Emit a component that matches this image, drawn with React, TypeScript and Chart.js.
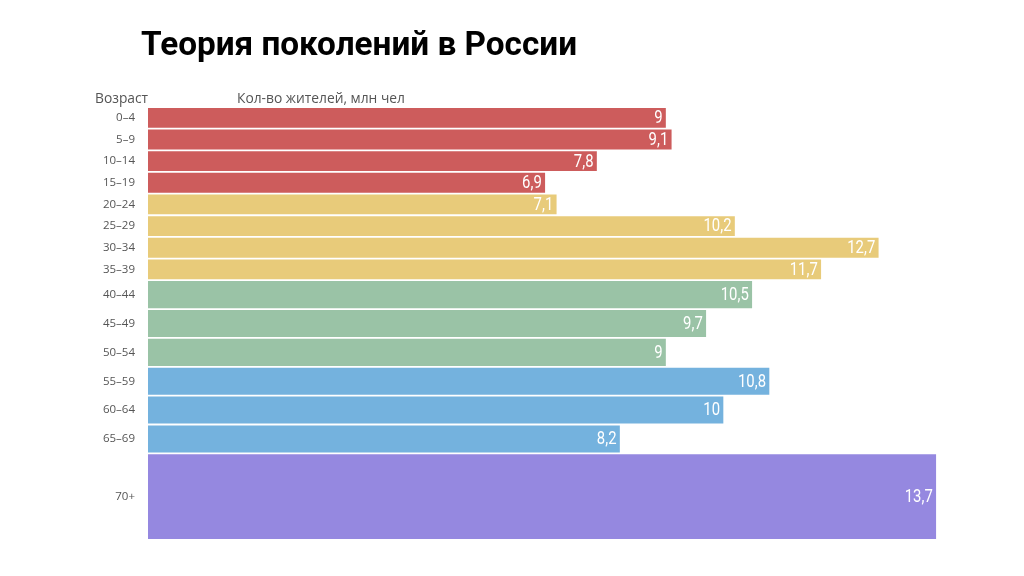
import React, { useEffect, useRef } from "react";
import { Chart, registerables } from "chart.js";

Chart.register(...registerables);

// ---- data ----
const ageGroups = ["0–4", "5–9", "10–14", "15–19", "20–24", "25–29", "30–34", "35–39", "40–44", "45–49", "50–54", "55–59", "60–64", "65–69", "70+"];
const population = [9, 9.1, 7.8, 6.9, 7.1, 10.2, 12.7, 11.7, 10.5, 9.7, 9, 10.8, 10, 8.2, 13.7];
const rowSpans = [3, 3, 3, 3, 3, 3, 3, 3, 4, 4, 4, 4, 4, 4, 12];
const generationOf = ["Z", "Z", "Z", "Z", "Y", "Y", "Y", "Y", "X", "X", "X", "BB", "BB", "BB", "S"];
const generationColors: Record<string, string> = {
  Z: "#CD5C5C",
  Y: "#E8CB7A",
  X: "#9AC3A6",
  BB: "#74B2DE",
  S: "#9588E0",
};
const titleText = "Теория поколений в России";
const ageAxisTitle = "Возраст";
const valueAxisTitle = "Кол-во жителей, млн чел";

const totalRows = rowSpans.reduce((a, b) => a + b, 0);
const rowCenters: number[] = [];
{
  let s = 0;
  for (const w of rowSpans) {
    rowCenters.push(s + w / 2);
    s += w;
  }
}
const fmt = (v: number) => String(v).replace(".", ",");

const BAR_GAP = 2.5;

const textPlugin = {
  id: "texts",
  afterDraw(chart: any) {
    const ctx = chart.ctx;
    ctx.save();
    // title
    ctx.fillStyle = "#000";
    ctx.textBaseline = "alphabetic";
    ctx.textAlign = "left";
    ctx.font = "bold 33px 'Roboto'";
    const w = ctx.measureText(titleText).width;
    ctx.translate(141, 55);
    ctx.scale(436 / w, 1);
    ctx.fillText(titleText, 0, 0);
    ctx.restore();

    ctx.save();
    ctx.fillStyle = "#555";
    ctx.font = "13.8px 'Open Sans'";
    ctx.textAlign = "left";
    ctx.textBaseline = "alphabetic";
    ctx.fillText(ageAxisTitle, 95, 103);
    ctx.fillText(valueAxisTitle, 237, 103);
    ctx.restore();

    // value labels
    chart.data.datasets.forEach((ds: any, i: number) => {
      const el = chart.getDatasetMeta(i).data[0];
      if (!el) return;
      ctx.save();
      ctx.fillStyle = "#fff";
      ctx.font = "400 17.5px 'Roboto'";
      ctx.textAlign = "right";
      ctx.textBaseline = "middle";
      ctx.translate(el.x - 3, el.y + 1);
      ctx.scale(0.85, 1);
      ctx.fillText(fmt(population[i]), 0, 0);
      ctx.restore();
    });
  },
};

function buildConfig(thickness: number[] | null): any {
  const datasets = ageGroups.map((g, i) => {
    const ds: any = {
      label: g,
      data: [{ x: population[i], y: rowCenters[i] }],
      backgroundColor: generationColors[generationOf[i]],
      borderWidth: 0,
      skipNull: true,
    };
    if (thickness) ds.barThickness = thickness[i];
    return ds;
  });
  return {
    type: "bar",
    data: { datasets },
    plugins: [textPlugin],
    options: {
      indexAxis: "y",
      responsive: false,
      animation: false,
      layout: { padding: { left: 0, top: 107, right: 13.5, bottom: 36 } },
      plugins: {
        legend: { display: false },
        tooltip: { enabled: false },
        title: { display: false },
      },
      scales: {
        x: { type: "linear", min: 0, max: 15, display: false },
        y: {
          type: "linear",
          min: 0,
          max: totalRows,
          reverse: true,
          offset: false,
          grid: { display: false, drawTicks: false, offset: false },
          border: { display: false },
          afterFit: (s: any) => {
            s.width = 148;
          },
          afterBuildTicks: (s: any) => {
            s.ticks = rowCenters.map((v) => ({ value: v }));
          },
          ticks: {
            autoSkip: false,
            padding: 13,
            color: "#555",
            font: { family: "'Open Sans'", size: 11.5 },
            callback: (_v: any, idx: number) => ageGroups[idx],
          },
        },
      },
    },
  };
}

export default function App() {
  const ref = useRef<HTMLCanvasElement>(null);
  useEffect(() => {
    const canvas = ref.current!;
    let chart = new Chart(canvas, buildConfig(null));
    const y = chart.scales.y;
    let s = 0;
    const thickness = rowSpans.map((w) => {
      const px = Math.abs(y.getPixelForValue(s + w) - y.getPixelForValue(s)) - BAR_GAP;
      s += w;
      return px;
    });
    chart.destroy();
    chart = new Chart(canvas, buildConfig(thickness));
    return () => chart.destroy();
  }, []);
  return (
    <div style={{ position: "fixed", left: 0, top: 0, width: 1024, height: 576, background: "#fff" }}>
      <canvas ref={ref} width={1024} height={576} />
    </div>
  );
}
